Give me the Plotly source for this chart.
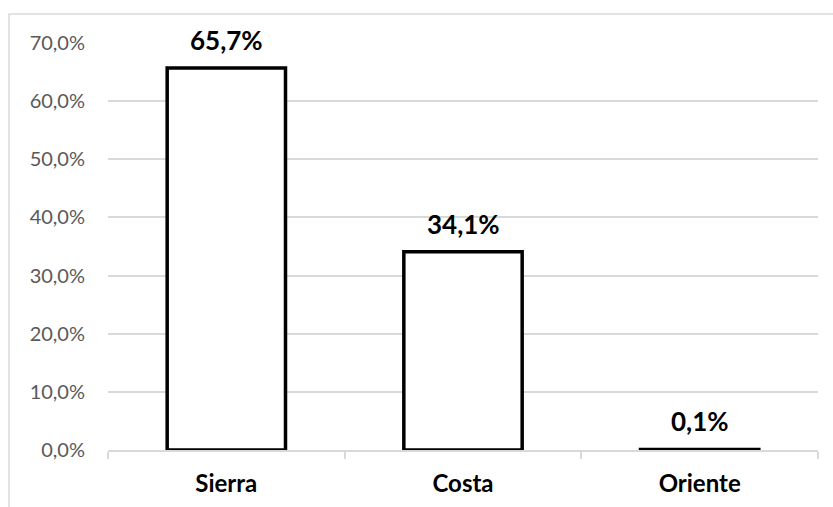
import plotly.graph_objects as go

categories = ["Sierra", "Costa", "Oriente"]
values = [65.7, 34.1, 0.1]
labels = ["65,7%", "34,1%", "0,1%"]
y_ticks = [0, 10, 20, 30, 40, 50, 60, 70]
y_tick_text = ["0,0%", "10,0%", "20,0%", "30,0%", "40,0%", "50,0%", "60,0%", "70,0%"]

GRID = "#d9d9d9"
FONT = "Lato"

fig = go.Figure()
fig.add_trace(go.Bar(
    x=categories, y=values, width=0.5,
    marker=dict(color="white", line=dict(color="black", width=3.5)),
    hoverinfo="skip",
))

for c, v, t in zip(categories, values, labels):
    fig.add_annotation(x=c, y=v, text=f"<b>{t}</b>", showarrow=False,
                       yanchor="bottom", yshift=10,
                       font=dict(family=FONT, size=26, color="black"))

fig.add_shape(type="rect", xref="paper", yref="paper",
              x0=(9 - 108) / 710, x1=(840 - 108) / 710,
              y0=(450 - 515) / 407, y1=1 + (43 - 14) / 407,
              line=dict(color=GRID, width=1.5), fillcolor="rgba(0,0,0,0)",
              layer="below")

fig.update_layout(
    width=833, height=507,
    margin=dict(l=108, r=15, t=43, b=57),
    paper_bgcolor="white", plot_bgcolor="white",
    showlegend=False,
    bargap=0.5,
    xaxis=dict(
        automargin=False,
        showline=True, linecolor=GRID, linewidth=1.5,
        ticks="outside", tickson="boundaries", ticklen=7, tickcolor=GRID, tickwidth=1.5,
        tickfont=dict(family=FONT, size=24, color="black", weight="bold"),
        ticklabelstandoff=11,
        showgrid=False,
    ),
    yaxis=dict(
        automargin=False,
        range=[0, 70], tickvals=y_ticks, ticktext=y_tick_text,
        showgrid=True, gridcolor=GRID, gridwidth=1.5,
        zeroline=False, showline=False,
        tickfont=dict(family=FONT, size=20, color="#595959"),
        ticklabelstandoff=22,
    ),
)

fig.write_html("out.html")
